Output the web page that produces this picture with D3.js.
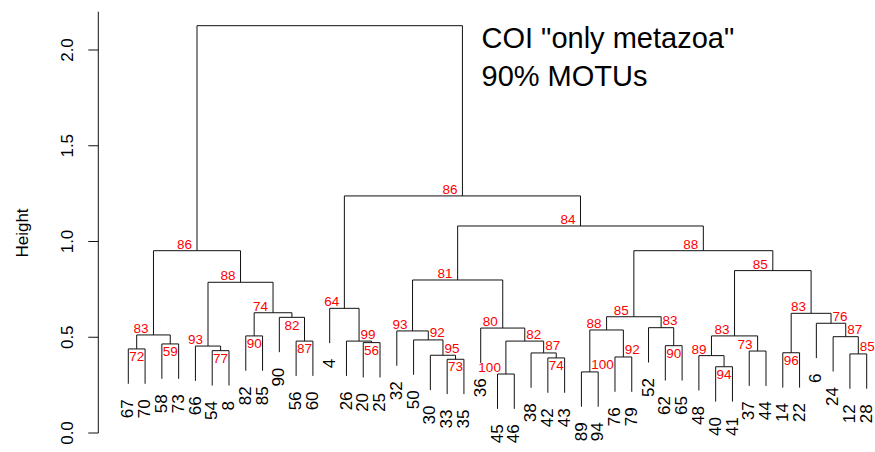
<!DOCTYPE html>
<html>
<head>
<meta charset="utf-8">
<script src="https://cdn.jsdelivr.net/npm/d3@7"></script>
<style>
  html, body { margin: 0; padding: 0; background: #fff; }
  svg { display: block; font-family: "Liberation Sans", Arial, sans-serif; }
</style>
</head>
<body>
<svg id="chart" width="875" height="452"></svg>
<script>
// ---- data ----
// leaf labels in dendrogram order (left to right)
const leaves = ["67","70","58","73","66","54","8","82","85","90","56","60","4","26","20","25",
  "32","50","30","33","35","36","45","46","38","42","43","89","94","76","79","52","62","65",
  "48","40","41","37","44","14","22","6","24","12","28"];
// merges: strings = leaf labels, numbers = index of an earlier merge
const merges = [
  ["67","70"], ["58","73"], [0,1], ["54","8"], ["66",3], ["82","85"], ["56","60"], ["90",6],
  [5,7], [4,8], [2,9], ["20","25"], ["26",11], ["4",12], ["33","35"], ["30",14], ["50",15],
  ["32",16], ["45","46"], ["42","43"], ["38",19], [18,20], ["36",21], [17,22], ["89","94"],
  ["76","79"], [24,25], ["62","65"], ["52",27], [26,28], ["40","41"], ["48",30], ["37","44"],
  [31,32], ["14","22"], ["12","28"], ["24",35], ["6",36], [34,37], [33,38], [29,39], [23,40],
  [13,41], [10,42]
];
const heights = [
  0.439, 0.465, 0.512, 0.430, 0.454, 0.507, 0.480, 0.604,
  0.628, 0.787, 0.952, 0.472, 0.480, 0.651, 0.385, 0.406, 0.486,
  0.533, 0.308, 0.392, 0.418, 0.480, 0.548, 0.799, 0.319,
  0.397, 0.538, 0.456, 0.550, 0.607, 0.346, 0.404, 0.428,
  0.507, 0.419, 0.413, 0.503, 0.573, 0.625, 0.848, 0.952, 1.081,
  1.238, 2.127
];
// bootstrap support shown at each merge (null = none)
const support = [
  72, 59, 83, 77, 93, 90, 87, 82,
  74, 88, 86, 56, 99, 64, 73, 95, 92,
  93, 100, 74, 87, 82, 80, 81, 100,
  92, 88, 90, 83, 85, 94, 89, 73,
  83, 96, 85, 87, 76, 83, 85, 88, 84,
  86, null
];
// where each support value sits: L = left above, R = right above, B = below centred
const supportSide = [
  "B","B","L","B","L","B","B","B",
  "L","L","L","B","R","L","B","R","R",
  "L","L","B","R","R","L","L","R",
  "R","L","B","R","L","B","L","L",
  "L","B","R","R","R","L","L","L","L",
  "L","L"
];
const yTicks = [0, 0.5, 1.0, 1.5, 2.0];
const yTickLabels = ["0.0", "0.5", "1.0", "1.5", "2.0"];
const titleLines = ['COI "only metazoa"', "90% MOTUs"];
const yTitle = "Height";

// ---- drawing ----
const svg = d3.select("#chart");
const x = d3.scaleLinear().domain([0, leaves.length - 1]).range([128.3, 866.7]);
const y = d3.scaleLinear().domain([0, 2]).range([433, 50]);
const hang = 0.1 * (d3.max(heights) - d3.min(heights));
const lineColor = "#111";

// compute node positions
const leafIndex = new Map(leaves.map((l, i) => [l, i]));
const nodes = merges.map(() => ({}));
function child(c, h) {
  if (typeof c === "string") {
    return { x: x(leafIndex.get(c)), h: h - hang, leaf: c };
  }
  return { x: nodes[c].x, h: nodes[c].h };
}
merges.forEach((m, i) => {
  const h = heights[i];
  const a = child(m[0], h), b = child(m[1], h);
  nodes[i] = { x: (a.x + b.x) / 2, h, a, b };
});

const g = svg.append("g");
nodes.forEach((n) => {
  const p = d3.path();
  p.moveTo(n.a.x, y(n.a.h));
  p.lineTo(n.a.x, y(n.h));
  p.lineTo(n.b.x, y(n.h));
  p.lineTo(n.b.x, y(n.b.h));
  g.append("path").attr("d", p.toString())
    .attr("fill", "none").attr("stroke", lineColor).attr("stroke-width", 1);
});

// leaf labels
const leafNodes = [];
nodes.forEach((n) => { [n.a, n.b].forEach((c) => { if (c.leaf) leafNodes.push(c); }); });
svg.append("g").selectAll("text").data(leafNodes).join("text")
  .attr("transform", (d) => `translate(${d.x},${y(d.h) + 15.5}) rotate(-90)`)
  .attr("text-anchor", "end")
  .attr("dy", "0.3em")
  .attr("font-size", 17)
  .attr("fill", "#000")
  .text((d) => d.leaf);

// support labels
const sg = svg.append("g");
nodes.forEach((n, i) => {
  if (support[i] == null) return;
  const side = supportSide[i];
  const t = sg.append("text").attr("font-size", 13.5).attr("fill", "#ff0000").text(support[i]);
  if (side === "L") {
    t.attr("x", n.x - 5).attr("y", y(n.h) - 2).attr("text-anchor", "end");
  } else if (side === "R") {
    t.attr("x", n.x + 1.5).attr("y", y(n.h) - 2.5).attr("text-anchor", "start");
  } else {
    t.attr("x", n.x).attr("y", y(n.h) + 12.2).attr("text-anchor", "middle");
  }
});

// y axis
const ax = svg.append("g");
ax.append("line").attr("x1", 98.3).attr("x2", 98.3)
  .attr("y1", y(0)).attr("y2", y(2.2)).attr("stroke", lineColor);
yTicks.forEach((v, i) => {
  ax.append("line").attr("x1", 88.3).attr("x2", 98.3)
    .attr("y1", y(v)).attr("y2", y(v)).attr("stroke", lineColor);
  ax.append("text")
    .attr("transform", `translate(72.5,${y(v)}) rotate(-90)`)
    .attr("text-anchor", "middle").attr("font-size", 17).attr("fill", "#000")
    .text(yTickLabels[i]);
});
svg.append("text")
  .attr("transform", "translate(28,233) rotate(-90)")
  .attr("text-anchor", "middle").attr("font-size", 17).attr("fill", "#000")
  .text(yTitle);

// title
titleLines.forEach((t, i) => {
  svg.append("text").attr("x", 481.5).attr("y", i === 0 ? 48.3 : 86)
    .attr("font-size", 29).attr("fill", "#000").text(t);
});
</script>
</body>
</html>
